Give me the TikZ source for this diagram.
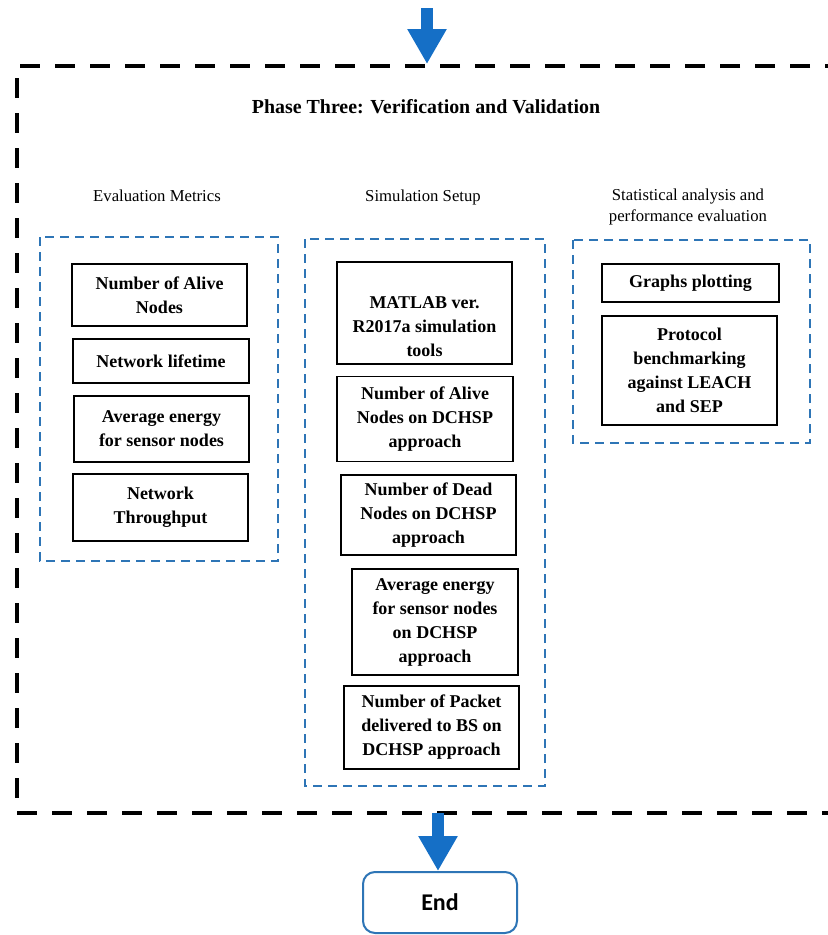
\documentclass[tikz,border=0pt]{standalone}
\usepackage{fontspec}
\setmainfont{Liberation Serif}
\newfontfamily\endfont{Carlito}
\usetikzlibrary{arrows.meta}

\definecolor{flowblue}{RGB}{21,111,198}
\definecolor{groupblue}{RGB}{46,117,182}

\newcommand{\boxfont}{\fontsize{18bp}{24bp}\selectfont\bfseries}
\newcommand{\headfont}{\fontsize{16.7bp}{21bp}\selectfont}
\newcommand{\titlefont}{\fontsize{19.9bp}{24bp}\selectfont\bfseries}

\tikzset{
  itembox/.style={draw=black, line width=1.2bp, align=center, inner sep=0pt,
    font=\boxfont},
  itemtext/.style={align=center, inner sep=0pt, font=\boxfont},
  groupbox/.style={draw=groupblue, line width=2.2bp, dash pattern=on 9bp off 6bp},
  header/.style={align=center, inner sep=0pt, font=\headfont},
  phaseframe/.style={draw=black, line width=4bp, dash pattern=on 20bp off 15bp},
  flowarrow/.style={draw=flowblue, line width=12bp,
    -{Triangle[width=37bp,length=35bp]}, fill=flowblue},
  endbox/.style={draw=groupblue, line width=2bp, rounded corners=12bp,
    minimum width=154bp, minimum height=61bp, inner sep=0pt,
    font=\endfont\fontsize{24bp}{28bp}\selectfont\bfseries}
}

\begin{document}
\begin{tikzpicture}[x=1bp, y=-1bp]
\useasboundingbox[fill=white] (0,0) rectangle (828,935);
\clip (0,0) rectangle (828,935);

% outer phase frame (open to the right)
\draw[phaseframe] (845,66) -- (17,66) -- (17,813) -- (845,813);

% incoming flow
\coordinate (topin) at (427,8);
\coordinate (frametop) at (427,64);
\draw[flowarrow] (topin) -- (frametop);

\node[font=\titlefont, inner sep=0pt] (title) at (426,107)
  {Phase Three: Verification and Validation};

% column headers
\node[header] (hmetrics) at (157,196) {Evaluation Metrics};
\node[header] (hsetup) at (423,197) {Simulation Setup};
\node[header] (hstats) at (688,207) {Statistical analysis and\\performance evaluation};

% group frames
\draw[groupbox] (40,237) rectangle (278,561);
\draw[groupbox] (305,239) rectangle (545,786);
\draw[groupbox] (573,240) rectangle (810,443);

% evaluation metrics
\node[itembox, minimum width=175bp, minimum height=62bp] (alive) at (159.5,295)
  {Number of Alive\\Nodes};
\node[itembox, minimum width=176bp, minimum height=44bp] (life) at (161,361)
  {Network lifetime};
\node[itembox, minimum width=175bp, minimum height=66bp] (avg) at (161.5,429)
  {Average energy\\for sensor nodes};
\node[itembox, minimum width=175bp, minimum height=67bp] (thr) at (160.5,507.5)
  {Network\\Throughput};

% simulation setup
\node[itembox, minimum width=175bp, minimum height=102bp] (matlab) at (424.5,313) {};
\node[itemtext] (matlabtxt) at (424.5,327)
  {MATLAB ver.\\R2017a simulation\\tools};
\node[itembox, minimum width=176bp, minimum height=85bp] (alivedc) at (425,419)
  {Number of Alive\\Nodes on DCHSP\\approach};
\node[itembox, minimum width=175bp, minimum height=80bp] (deaddc) at (428.5,515)
  {Number of Dead\\Nodes on DCHSP\\approach};
\node[itembox, minimum width=166bp, minimum height=106bp] (energydc) at (435,622)
  {Average energy\\for sensor nodes\\on DCHSP\\approach};
\node[itembox, minimum width=175bp, minimum height=83bp] (packetdc) at (431.5,727.5)
  {Number of Packet\\delivered to BS on\\DCHSP approach};

% statistical analysis
\node[itembox, minimum width=177bp, minimum height=38bp] (graphs) at (690.5,283)
  {Graphs plotting};
\node[itembox, minimum width=175bp, minimum height=109bp] (bench) at (689.5,370.5)
  {Protocol\\benchmarking\\against LEACH\\and SEP};

% outgoing flow
\node[endbox] (end) at (440,902.5) {End};
\coordinate (framebot) at (438,813);
\draw[flowarrow] (framebot) -- (end.north -| framebot);
\end{tikzpicture}
\end{document}
